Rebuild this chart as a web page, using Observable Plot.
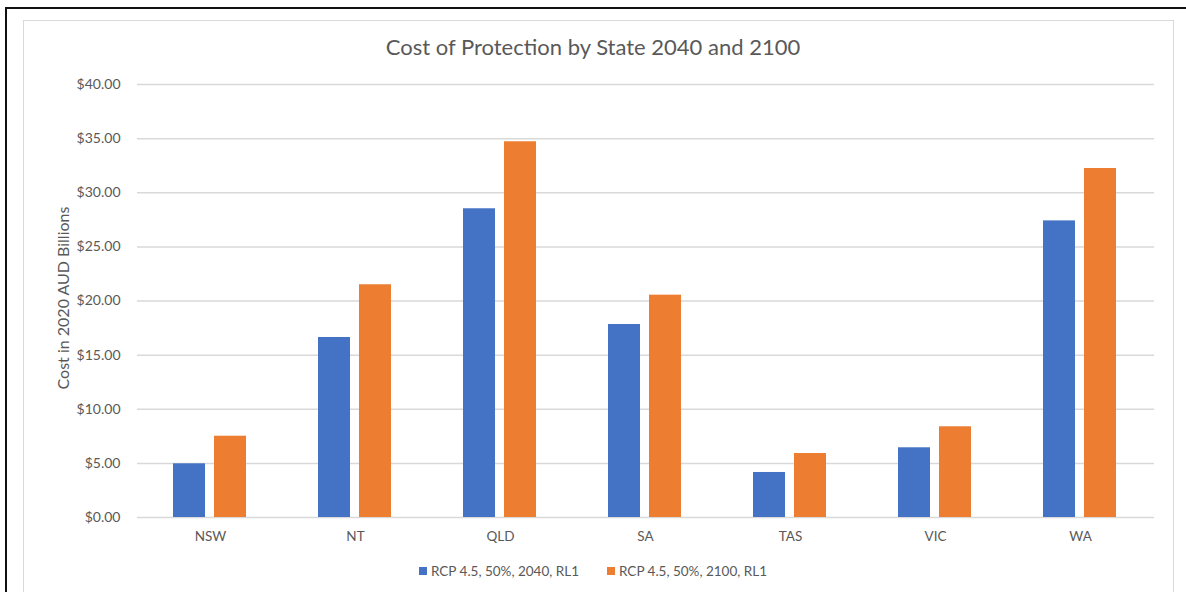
<!DOCTYPE html>
<html>
<head>
<meta charset="utf-8">
<script src="https://cdn.jsdelivr.net/npm/d3@7"></script>
<script src="https://cdn.jsdelivr.net/npm/@observablehq/plot@0.6"></script>
<style>
  html, body { margin: 0; padding: 0; background: #fff; }
  #wrap { position: relative; width: 1186px; height: 592px; overflow: hidden; background: #fff; font-family: Lato, "Open Sans", sans-serif; color: #595959; }
  #outer { position: absolute; left: 5px; top: 7px; width: 1300px; height: 700px; border-left: 2px solid #111; border-top: 2px solid #111; }
  #inner { position: absolute; left: 23px; top: 20px; width: 1149px; height: 700px; border: 1.5px solid #d9d9d9; }
  #title { position: absolute; left: 0; width: 1186px; top: 33px; text-align: center; font-size: 22px; color: #595959; }
  #ylabel { position: absolute; left: 62px; top: 298px; transform: translate(-50%, -50%) rotate(-90deg); white-space: nowrap; font-size: 16px; color: #595959; }
  #grid, #chart { position: absolute; left: 0; top: 60px; }
  #legend { position: absolute; left: 0; width: 1186px; top: 563px; display: flex; justify-content: center; gap: 28px; font-size: 13.5px; color: #595959; }
  .item { display: flex; align-items: center; gap: 4px; }
  .sw { width: 8px; height: 8px; display: inline-block; }
</style>
</head>
<body>
<div id="wrap">
  <div id="outer"></div>
  <div id="inner"></div>
  <div id="title"></div>
  <div id="ylabel"></div>
  <div id="grid"></div>
  <div id="chart"></div>
  <div id="legend"></div>
</div>
<script>
const title = "Cost of Protection by State 2040 and 2100";
const yLabel = "Cost in 2020 AUD Billions";
const states = ["NSW", "NT", "QLD", "SA", "TAS", "VIC", "WA"];
const seriesNames = ["RCP 4.5, 50%, 2040, RL1", "RCP 4.5, 50%, 2100, RL1"];
const seriesColors = ["#4472C4", "#ED7D31"];
const cost2040 = [4.96, 16.63, 28.52, 17.83, 4.16, 6.44, 27.40];
const cost2100 = [7.51, 21.50, 34.71, 20.54, 5.91, 8.38, 32.24];
const yTicks = [0, 5, 10, 15, 20, 25, 30, 35, 40];

const data = [];
states.forEach((s, i) => {
  data.push({state: s, series: seriesNames[0], value: cost2040[i]});
  data.push({state: s, series: seriesNames[1], value: cost2100[i]});
});

document.getElementById("title").textContent = title;
document.getElementById("ylabel").textContent = yLabel;

const common = {
  width: 1186,
  height: 500,
  marginTop: 24,
  marginBottom: 43,
  marginLeft: 137,
  marginRight: 32,
  style: {fontFamily: "Lato, 'Open Sans', sans-serif", fontSize: "13px", color: "#595959", background: "transparent"}
};

// Layer 1: continuous gridlines and y axis labels
const grid = Plot.plot({
  ...common,
  y: {domain: [0, 40], ticks: yTicks, label: null},
  marks: [
    Plot.ruleY(yTicks, {stroke: "#d9d9d9", strokeWidth: 1.5}),
    Plot.axisY({ticks: yTicks, tickFormat: d => "$" + d.toFixed(2), tickSize: 0, tickPadding: 17, label: null, fontSize: 14})
  ]
});
document.getElementById("grid").appendChild(grid);

// Layer 2: grouped bars with state labels
const chart = Plot.plot({
  ...common,
  fx: {domain: states, paddingInner: 0.488, paddingOuter: 0.244, label: null},
  x: {domain: seriesNames, paddingInner: 0.216, paddingOuter: 0, axis: null},
  y: {domain: [0, 40], axis: null},
  color: {domain: seriesNames, range: seriesColors},
  marks: [
    Plot.barY(data, {fx: "state", x: "series", y: "value", fill: "series"}),
    Plot.axisFx({anchor: "bottom", tickSize: 0, tickPadding: 14, label: null, fontSize: 13.5})
  ]
});
document.getElementById("chart").appendChild(chart);

const legend = document.getElementById("legend");
seriesNames.forEach((n, i) => {
  const item = document.createElement("div");
  item.className = "item";
  const sw = document.createElement("span");
  sw.className = "sw";
  sw.style.background = seriesColors[i];
  const t = document.createElement("span");
  t.textContent = n;
  item.appendChild(sw);
  item.appendChild(t);
  legend.appendChild(item);
});
</script>
</body>
</html>
